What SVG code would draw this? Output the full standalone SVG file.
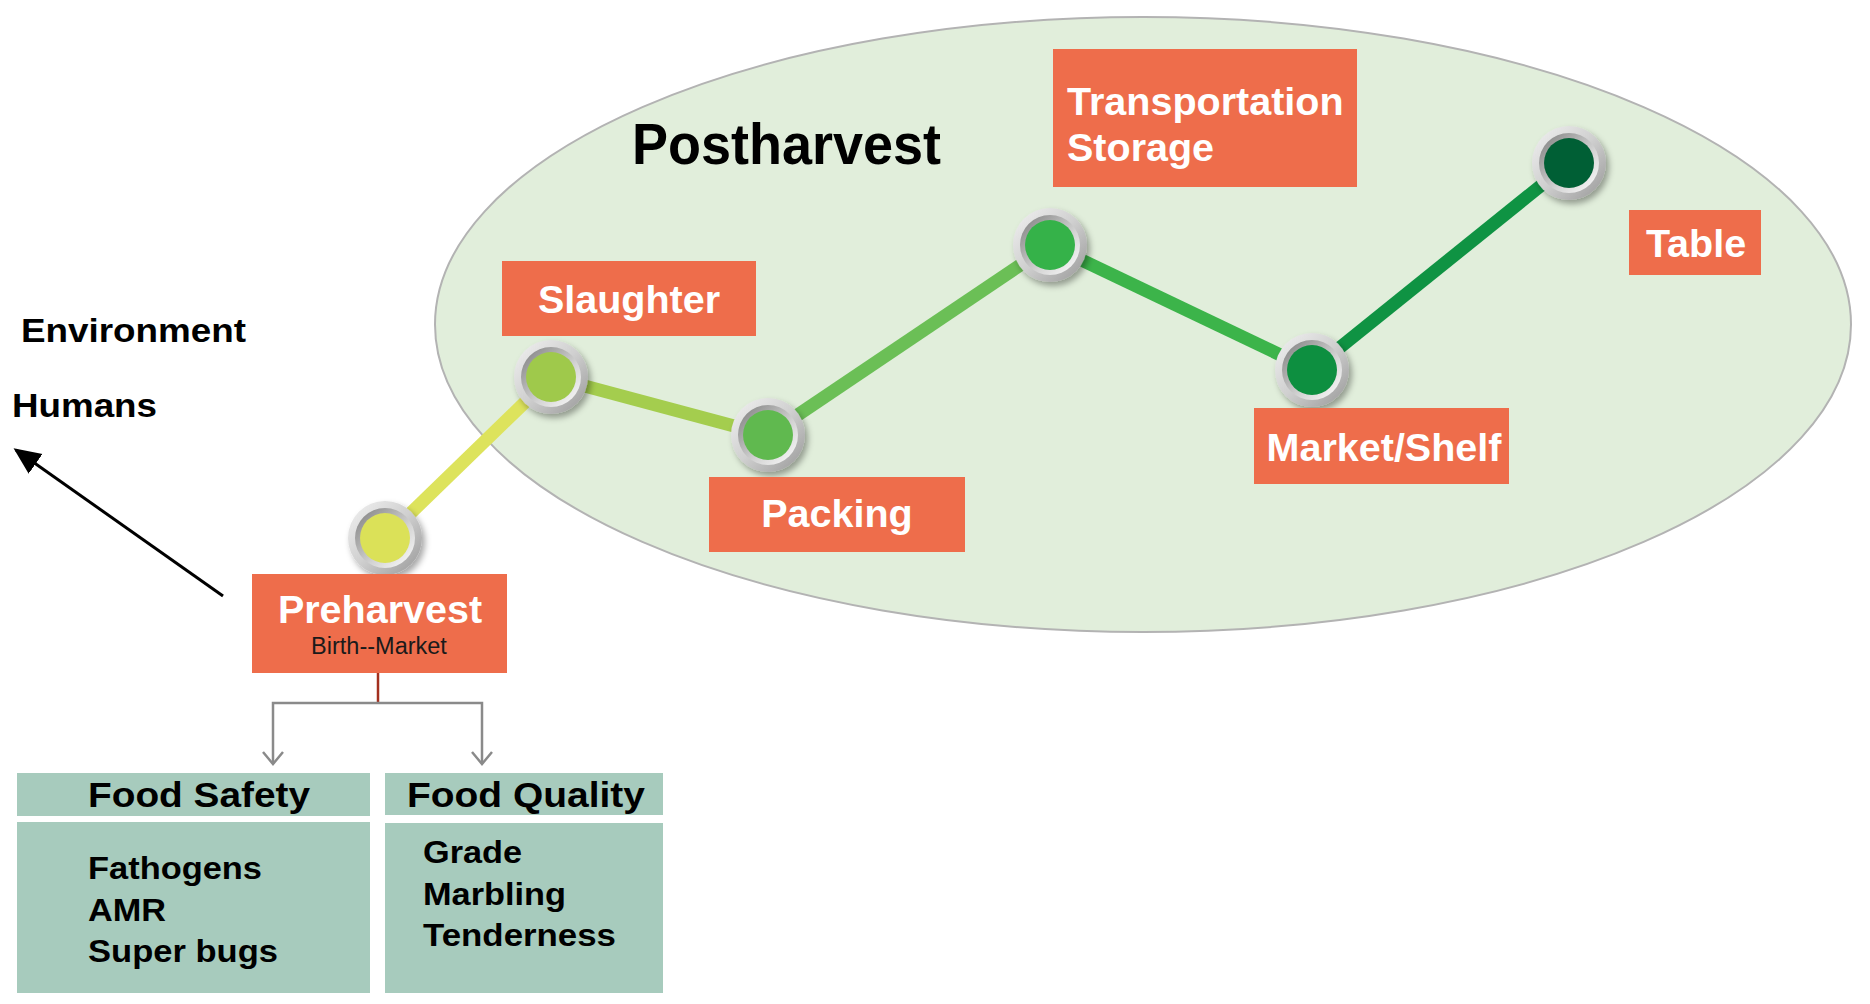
<svg xmlns="http://www.w3.org/2000/svg" width="1870" height="1004" viewBox="0 0 1870 1004">
<style>
  .lbl{font-family:"Liberation Sans",Arial,sans-serif;font-weight:bold;fill:#ffffff;font-size:39.5px}
  .blk{font-family:"Liberation Sans",Arial,sans-serif;font-weight:bold;fill:#000000}
  .box{fill:#ee6d4b}
  .food{fill:#a7cbbd}
  .seg{stroke-width:13;stroke-linecap:butt;fill:none}
  .gray{stroke:#8a8a8a;stroke-width:2.5;fill:none}
</style>
<defs>
  <linearGradient id="ringOuter" x1="0" y1="0" x2="1" y2="1">
    <stop offset="0" stop-color="#f2f2f2"/>
    <stop offset="0.5" stop-color="#cfcfcf"/>
    <stop offset="1" stop-color="#979797"/>
  </linearGradient>
  <linearGradient id="ringInner" x1="0" y1="0" x2="1" y2="1">
    <stop offset="0" stop-color="#7d7d7d"/>
    <stop offset="0.6" stop-color="#d4d4d4"/>
    <stop offset="1" stop-color="#ffffff"/>
  </linearGradient>
  <filter id="shadow" x="-40%" y="-40%" width="180%" height="180%">
    <feDropShadow dx="3" dy="4" stdDeviation="3" flood-color="#000" flood-opacity="0.35"/>
  </filter>
  <marker id="blackArrow" markerWidth="10" markerHeight="10" refX="8" refY="5" orient="auto" markerUnits="strokeWidth">
    <path d="M0,1 L9,5 L0,9 Z" fill="#000"/>
  </marker>
</defs>

<rect width="1870" height="1004" fill="#ffffff"/>

<g id="postharvest-region">
  <ellipse cx="1143" cy="324.5" rx="708" ry="307.5" fill="#e1eedb" stroke="#b3b3b3" stroke-width="2"/>
  <text class="blk" x="632" y="164" font-size="58" textLength="309" lengthAdjust="spacingAndGlyphs">Postharvest</text>
</g>

<g id="connectors">
  <line class="seg" x1="385" y1="538" x2="551" y2="377" stroke="#dde35c"/>
  <line class="seg" x1="551" y1="377" x2="768" y2="435" stroke="#a4cd4e"/>
  <line class="seg" x1="768" y1="435" x2="1050" y2="245" stroke="#6bbf56"/>
  <line class="seg" x1="1050" y1="245" x2="1312" y2="370" stroke="#3cb44a"/>
  <line class="seg" x1="1312" y1="370" x2="1569" y2="163" stroke="#0f9343"/>
  <line x1="378" y1="673" x2="378" y2="703" stroke="#a3301f" stroke-width="2.5"/>
  <path class="gray" d="M273,764 L273,703 L482,703 L482,764"/>
  <path class="gray" d="M263,752 L273,764 L283,752"/>
  <path class="gray" d="M472,752 L482,764 L492,752"/>
  <line x1="223" y1="596" x2="16" y2="450" stroke="#000" stroke-width="3" marker-end="url(#blackArrow)"/>
</g>

<g id="node-preharvest-dot" filter="url(#shadow)">
  <circle cx="385" cy="538" r="37" fill="url(#ringOuter)"/>
  <circle cx="385" cy="538" r="30" fill="url(#ringInner)"/>
  <circle cx="385" cy="538" r="25" fill="#dbe159"/>
</g>
<g id="node-slaughter-dot" filter="url(#shadow)">
  <circle cx="551" cy="377" r="37" fill="url(#ringOuter)"/>
  <circle cx="551" cy="377" r="30" fill="url(#ringInner)"/>
  <circle cx="551" cy="377" r="25" fill="#9fc94b"/>
</g>
<g id="node-packing-dot" filter="url(#shadow)">
  <circle cx="768" cy="435" r="37" fill="url(#ringOuter)"/>
  <circle cx="768" cy="435" r="30" fill="url(#ringInner)"/>
  <circle cx="768" cy="435" r="25" fill="#60b950"/>
</g>
<g id="node-transport-dot" filter="url(#shadow)">
  <circle cx="1050" cy="245" r="37" fill="url(#ringOuter)"/>
  <circle cx="1050" cy="245" r="30" fill="url(#ringInner)"/>
  <circle cx="1050" cy="245" r="25" fill="#35b24a"/>
</g>
<g id="node-market-dot" filter="url(#shadow)">
  <circle cx="1312" cy="370" r="37" fill="url(#ringOuter)"/>
  <circle cx="1312" cy="370" r="30" fill="url(#ringInner)"/>
  <circle cx="1312" cy="370" r="25" fill="#0d8f3f"/>
</g>
<g id="node-table-dot" filter="url(#shadow)">
  <circle cx="1569" cy="163" r="37" fill="url(#ringOuter)"/>
  <circle cx="1569" cy="163" r="30" fill="url(#ringInner)"/>
  <circle cx="1569" cy="163" r="25" fill="#045f35"/>
</g>

<g id="node-slaughter">
  <rect class="box" x="502" y="261" width="254" height="75"/>
  <text class="lbl" x="629" y="313" text-anchor="middle">Slaughter</text>
</g>
<g id="node-packing">
  <rect class="box" x="709" y="477" width="256" height="75"/>
  <text class="lbl" x="837" y="527" text-anchor="middle">Packing</text>
</g>
<g id="node-transport">
  <rect class="box" x="1053" y="49" width="304" height="138"/>
  <text class="lbl" x="1067" y="115">Transportation</text>
  <text class="lbl" x="1067" y="161">Storage</text>
</g>
<g id="node-market">
  <rect class="box" x="1254" y="408" width="255" height="76"/>
  <text class="lbl" x="1384" y="461" text-anchor="middle">Market/Shelf</text>
</g>
<g id="node-table">
  <rect class="box" x="1629" y="210" width="132" height="65"/>
  <text class="lbl" x="1696" y="257" text-anchor="middle">Table</text>
</g>
<g id="node-preharvest">
  <rect class="box" x="252" y="574" width="255" height="99"/>
  <text class="lbl" x="380" y="623" text-anchor="middle">Preharvest</text>
  <text x="379" y="654" text-anchor="middle" font-family="Liberation Sans, Arial, sans-serif" font-size="23.5" fill="#1a1a1a">Birth--Market</text>
</g>

<g id="node-environment">
  <text class="blk" x="21" y="342" font-size="34" textLength="225" lengthAdjust="spacingAndGlyphs">Environment</text>
</g>
<g id="node-humans">
  <text class="blk" x="12" y="417" font-size="34" textLength="145" lengthAdjust="spacingAndGlyphs">Humans</text>
</g>

<g id="node-food-safety">
  <rect class="food" x="17" y="773" width="353" height="43"/>
  <rect class="food" x="17" y="822" width="353" height="171"/>
  <text class="blk" x="88" y="807" font-size="35" textLength="222" lengthAdjust="spacingAndGlyphs">Food Safety</text>
  <text class="blk" x="88" y="879" font-size="32" textLength="174" lengthAdjust="spacingAndGlyphs">Fathogens</text>
  <text class="blk" x="88" y="921" font-size="32" textLength="78" lengthAdjust="spacingAndGlyphs">AMR</text>
  <text class="blk" x="88" y="962" font-size="32" textLength="190" lengthAdjust="spacingAndGlyphs">Super bugs</text>
</g>
<g id="node-food-quality">
  <rect class="food" x="385" y="773" width="278" height="42"/>
  <rect class="food" x="385" y="823" width="278" height="170"/>
  <text class="blk" x="407" y="807" font-size="35" textLength="238" lengthAdjust="spacingAndGlyphs">Food Quality</text>
  <text class="blk" x="423" y="863" font-size="32" textLength="99" lengthAdjust="spacingAndGlyphs">Grade</text>
  <text class="blk" x="423" y="905" font-size="32" textLength="143" lengthAdjust="spacingAndGlyphs">Marbling</text>
  <text class="blk" x="423" y="946" font-size="32" textLength="193" lengthAdjust="spacingAndGlyphs">Tenderness</text>
</g>
</svg>
